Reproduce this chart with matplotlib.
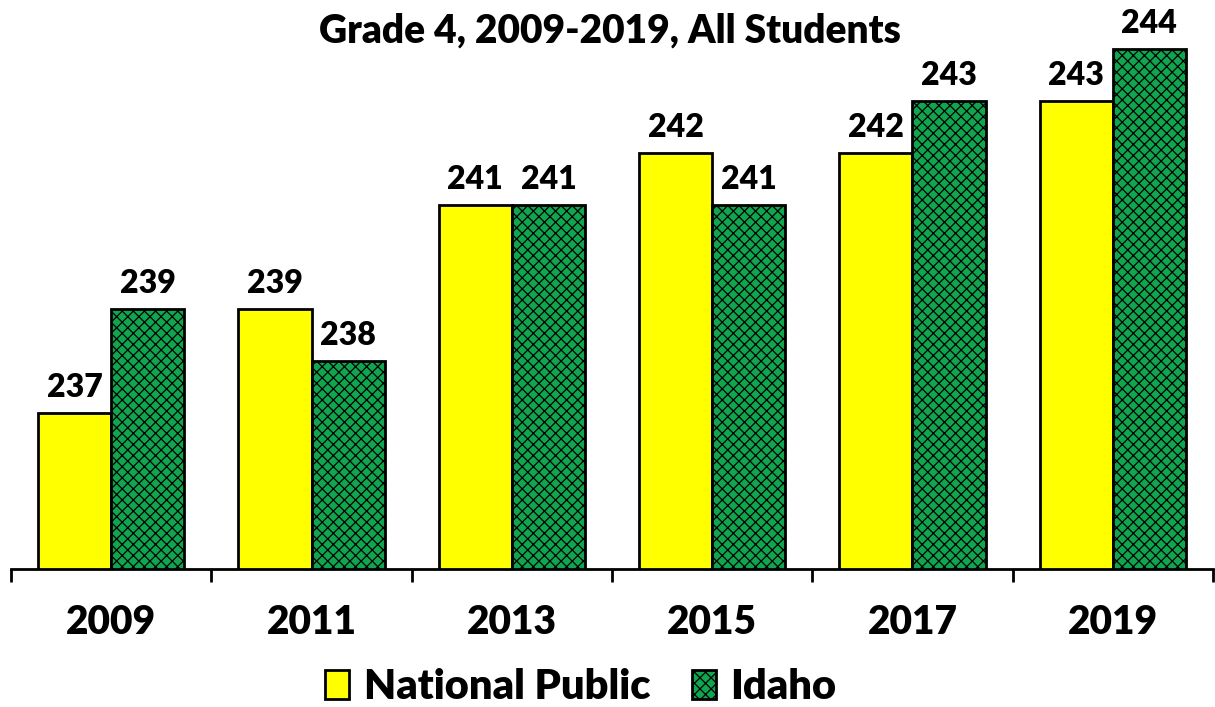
import matplotlib
matplotlib.use("Agg")
import matplotlib.pyplot as plt
from matplotlib.patches import Patch
import numpy as np

years = ["2009", "2011", "2013", "2015", "2017", "2019"]
national = [237, 239, 241, 242, 242, 243]
idaho = [239, 238, 241, 241, 243, 244]
title = "Grade 4, 2009-2019, All Students"
series_names = ["National Public", "Idaho"]

FONT = ["Lato", "DejaVu Sans"]
plt.rcParams['font.family'] = FONT
plt.rcParams['hatch.linewidth'] = 0.9

fig = plt.figure(figsize=(12.15, 7.07), dpi=100)
ax = fig.add_axes([11/1215, 138/707, (1213-11)/1215, 569/707])

x = np.arange(len(years))
w = 0.365
ymin = 234
GREEN = "#0FA64F"
ax.bar(x - w/2, np.array(national) - ymin, w, bottom=ymin, color="#FFFF00",
       edgecolor="black", linewidth=2, zorder=3)
ax.bar(x + w/2, np.array(idaho) - ymin, w, bottom=ymin, color=GREEN,
       edgecolor="black", linewidth=2, hatch="xxx", zorder=3)

for xi, v in zip(x - w/2, national):
    ax.annotate(str(v), (xi, v), xytext=(0, 8), textcoords="offset points",
                ha="center", va="bottom", fontsize=23, fontweight="heavy")
for xi, v in zip(x + w/2, idaho):
    ax.annotate(str(v), (xi, v), xytext=(0, 8), textcoords="offset points",
                ha="center", va="bottom", fontsize=23, fontweight="heavy")

ax.set_xlim(-0.5, len(years) - 0.5)
ax.set_ylim(ymin, ymin + 569/52)
for s in ["top", "right", "left"]:
    ax.spines[s].set_visible(False)
ax.spines["bottom"].set_linewidth(2)
ax.set_yticks([])
ax.set_xticks(np.arange(-0.5, len(years)), labels=[""] * (len(years) + 1))
ax.tick_params(axis="x", which="major", length=9, width=2, direction="out")
ax.set_xticks(x, labels=years, minor=True)
ax.tick_params(axis="x", which="minor", length=0, pad=25, labelsize=28)
for lab in ax.get_xticklabels(minor=True):
    lab.set_fontweight("heavy")

fig.text(0.502, 1 - 31/707, title, ha="center", va="center", fontsize=28,
         fontweight="heavy")

handles = [Patch(facecolor="#FFFF00", edgecolor="black", linewidth=2),
           Patch(facecolor=GREEN, edgecolor="black", linewidth=2, hatch="xxx")]
fig.legend(handles, series_names, loc="center", bbox_to_anchor=(0.478, 1 - 687/707),
           ncol=2, frameon=False, handlelength=0.58, handleheight=0.7,
           handletextpad=0.35, columnspacing=1.0, prop={"weight": "heavy", "size": 30})

fig.savefig("out.png", dpi=100)
